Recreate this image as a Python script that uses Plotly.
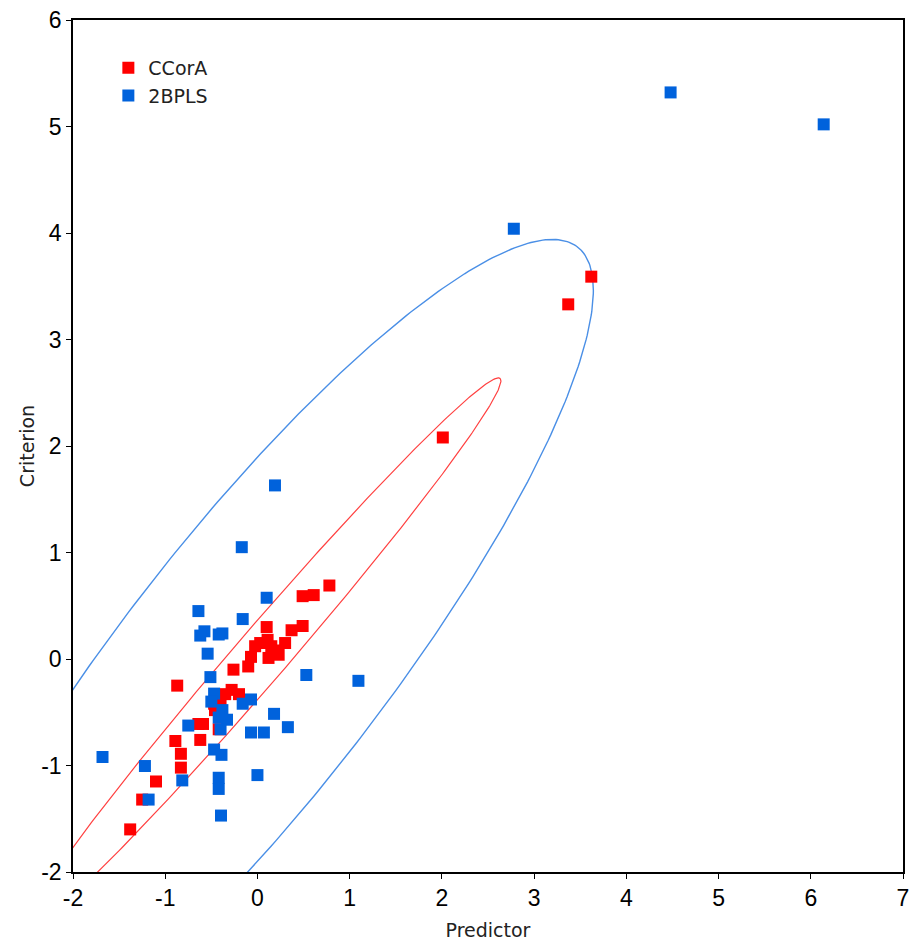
import numpy as np
import plotly.graph_objects as go

# CCorA (red) points
ccora_x = [0.78, 0.49, 0.61, 0.49, 0.37, 0.10, 0.11, -0.025, 0.03, 0.15, 0.21, 0.30,
           0.12, 0.23, -0.07, -0.10, -0.26, -0.87, -0.28, -0.35, -0.20, -0.46, -0.42,
           -0.64, -0.59, -0.62, -0.89, -0.83, -0.83, -1.10, -1.25, -1.38, -0.40, -0.47,
           2.01, 3.37, 3.62]
ccora_y = [0.69, 0.59, 0.60, 0.31, 0.27, 0.30, 0.18, 0.12, 0.15, 0.12, 0.08, 0.15,
           0.01, 0.04, 0.02, -0.07, -0.10, -0.25, -0.29, -0.33, -0.33, -0.48, -0.66,
           -0.61, -0.61, -0.76, -0.77, -0.89, -1.02, -1.15, -1.32, -1.60, -0.40, -0.42,
           2.08, 3.33, 3.59]

# 2BPLS (blue) points
bpls_x = [0.10, -0.64, -0.16, -0.575, -0.62, -0.38, -0.42, -0.54, -0.51, 0.53, 1.095,
          -0.47, -0.50, -0.16, -0.07, -0.38, -0.42, -0.33, -0.40, 0.18, 0.33, -0.07,
          0.07, -0.75, -0.47, -0.39, -1.68, -1.22, 0.0, -0.815, -0.42, -0.42, -1.18,
          -0.395, -0.17, 0.19, 2.78, 4.48, 6.14]
bpls_y = [0.575, 0.45, 0.375, 0.26, 0.22, 0.24, 0.23, 0.05, -0.17, -0.15, -0.205,
          -0.325, -0.40, -0.42, -0.38, -0.48, -0.55, -0.57, -0.66, -0.515, -0.64, -0.69,
          -0.69, -0.625, -0.85, -0.90, -0.92, -1.005, -1.09, -1.14, -1.115, -1.22, -1.32,
          -1.47, 1.05, 1.63, 4.04, 5.32, 5.02]

# tick values / labels
x_ticks = [-2, -1, 0, 1, 2, 3, 4, 5, 6, 7]
y_ticks = [-2, -1, 0, 1, 2, 3, 4, 5, 6]
x_ticklabels = ["-2", "-1", "0", "1", "2", "3", "4", "5", "6", "7"]
y_ticklabels = ["-2", "-1", "0", "1", "2", "3", "4", "5", "6"]

# 95% ellipse parameters: center x, center y, semi-major, semi-minor, angle (deg)
ccora_ellipse = dict(cx=0.05, cy=0.04, a=3.66, b=0.265, angle=45.1)
bpls_ellipse = dict(cx=-0.07, cy=-0.07, a=5.3, b=1.33, angle=47.5)

RED = "#FF0000"
BLUE = "#0062DC"
RED_LINE = "#FF4040"
BLUE_LINE = "#4A8FE6"


def ellipse_xy(p, n=400):
    t = np.linspace(0, 2 * np.pi, n)
    th = np.deg2rad(p["angle"])
    ex = p["a"] * np.cos(t)
    ey = p["b"] * np.sin(t)
    x = p["cx"] + ex * np.cos(th) - ey * np.sin(th)
    y = p["cy"] + ex * np.sin(th) + ey * np.cos(th)
    return x, y


fig = go.Figure()
ex, ey = ellipse_xy(bpls_ellipse)
fig.add_trace(go.Scatter(x=ex, y=ey, mode="lines", line=dict(color=BLUE_LINE, width=1.4),
                         showlegend=False, hoverinfo="skip"))
ex, ey = ellipse_xy(ccora_ellipse)
fig.add_trace(go.Scatter(x=ex, y=ey, mode="lines", line=dict(color=RED_LINE, width=1.2),
                         showlegend=False, hoverinfo="skip"))
fig.add_trace(go.Scatter(x=ccora_x, y=ccora_y, mode="markers", name="CCorA",
                         marker=dict(symbol="square", size=12, color=RED, line=dict(width=0))))
fig.add_trace(go.Scatter(x=bpls_x, y=bpls_y, mode="markers", name="2BPLS",
                         marker=dict(symbol="square", size=12, color=BLUE, line=dict(width=0))))

TICK_FONT = dict(family="Liberation Sans", size=23, color="black")
TITLE_FONT = dict(family="DejaVu Sans", size=19, color="#222")

axis_common = dict(showgrid=False, zeroline=False, showline=True, linecolor="black", linewidth=1.5,
                   mirror=True, ticks="outside", ticklen=5, tickcolor="black", tickwidth=1,
                   tickfont=TICK_FONT, automargin=False, ticklabeloverflow="allow")

fig.update_layout(
    width=910, height=941,
    paper_bgcolor="white", plot_bgcolor="white",
    margin=dict(l=73, r=7, t=20, b=69),
    xaxis=dict(range=[-2, 7], tickvals=x_ticks, ticktext=x_ticklabels,
               title=dict(text="Predictor", font=TITLE_FONT, standoff=20),
               **axis_common),
    yaxis=dict(range=[-2, 6], tickvals=y_ticks, ticktext=y_ticklabels,
               title=dict(text="Criterion", font=TITLE_FONT, standoff=2),
               **axis_common),
    legend=dict(x=0.0426, y=0.966, xanchor="left", yanchor="top", bgcolor="rgba(0,0,0,0)",
                font=dict(family="DejaVu Sans", size=19, color="#222"),
                itemsizing="constant", tracegroupgap=0),
    showlegend=True,
)

fig.write_html(
    "out.html",
    config={"displayModeBar": False},
    post_script="document.body.style.margin='0';document.body.style.overflow='hidden';",
)
